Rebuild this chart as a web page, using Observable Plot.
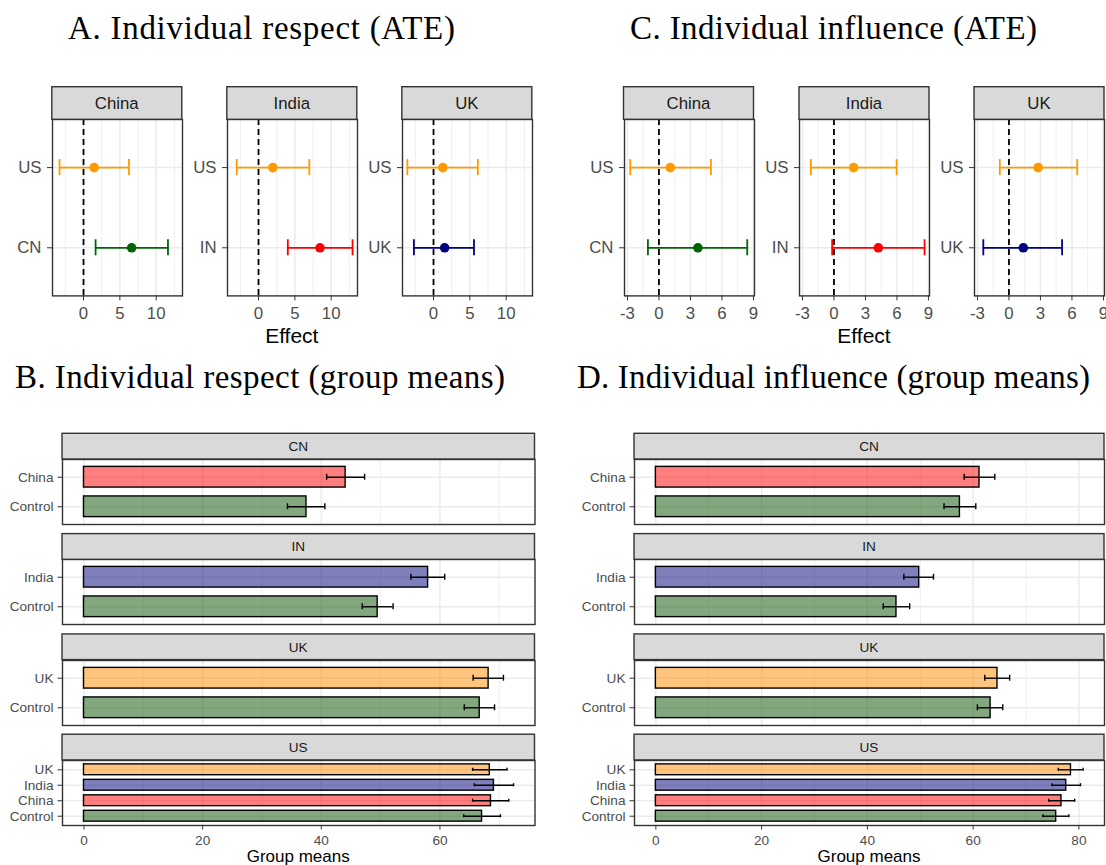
<!DOCTYPE html>
<html><head><meta charset="utf-8">
<script src="https://cdn.jsdelivr.net/npm/d3@7"></script>
<script src="https://cdn.jsdelivr.net/npm/@observablehq/plot@0.6"></script>
<style>
html,body{margin:0;padding:0;background:#fff;overflow:hidden;}
#root{position:relative;width:1106px;height:865px;overflow:hidden;background:#fff;}
.pl{position:absolute;}
.pl svg{max-width:none !important;}
</style></head><body><div id="root"></div><script>
// ---------- DATA ----------
// Panels A / C: average treatment effects (rows: US, target country)
const ateCountries = ["China", "India", "UK"];
const ateGroups = [["US", "CN"], ["US", "IN"], ["US", "UK"]];
const respectEst = [[1.46, 6.62], [1.97, 8.46], [1.28, 1.53]];
const respectLo  = [[-3.3, 1.66], [-3.0, 4.03], [-3.6, -2.7]];
const respectHi  = [[6.25, 11.62], [6.99, 12.94], [6.1, 5.57]];
const influenceEst = [[1.08, 3.71], [1.87, 4.23], [2.78, 1.37]];
const influenceLo  = [[-2.73, -1.05], [-2.2, -0.17], [-0.87, -2.44]];
const influenceHi  = [[4.95, 8.41], [5.97, 8.63], [6.5, 5.06]];
const ateColors = {US: "#ff9900", CN: "#006400", IN: "#ff0000", UK: "#000080"};
const respectTicks = [0, 5, 10];
const respectMinor = [-2.5, 2.5, 7.5, 12.5];
const influenceTicks = [-3, 0, 3, 6, 9];
const influenceMinor = [-1.5, 1.5, 4.5, 7.5];

// Panels B / D: group means
const facets = ["CN", "IN", "UK", "US"];
const facetConds = [["China", "Control"], ["India", "Control"], ["UK", "Control"], ["UK", "India", "China", "Control"]];
const respectMean   = [[44.1, 37.5], [58.0, 49.5], [68.2, 66.7], [68.4, 69.1, 68.6, 67.1]];
const respectMeanLo = [[40.9, 34.3], [55.1, 46.9], [65.6, 64.1], [65.5, 65.8, 65.5, 64.0]];
const respectMeanHi = [[47.3, 40.6], [60.8, 52.1], [70.7, 69.2], [71.3, 72.4, 71.6, 70.2]];
const influenceMean   = [[61.2, 57.5], [49.8, 45.5], [64.6, 63.3], [78.5, 77.6, 76.7, 75.7]];
const influenceMeanLo = [[58.3, 54.5], [46.9, 43.0], [62.2, 60.8], [76.1, 74.9, 74.3, 73.2]];
const influenceMeanHi = [[64.1, 60.5], [52.5, 48.0], [66.9, 65.6], [80.8, 80.3, 79.2, 78.1]];
const condColors = {China: "#ff0000", India: "#000078", UK: "#ff8c00", Control: "#085200"};
const respectMeanTicks = [0, 20, 40, 60];
const influenceMeanTicks = [0, 20, 40, 60, 80];
const meanMinor = [10, 30, 50, 70];

// ---------- LAYOUT ----------
const SANS = "'Liberation Sans', Arial, Helvetica, sans-serif";
const SERIF = "'Liberation Serif', 'Times New Roman', serif";
const root = document.getElementById("root");
const overlay = d3.create("svg").attr("width", 1106).attr("height", 865)
  .style("position", "absolute").style("left", "0px").style("top", "0px");

function place(svg, left, top, w, h) {
  const d = document.createElement("div");
  d.className = "pl";
  d.style.left = left + "px";
  d.style.top = top + "px";
  d.style.width = w + "px";
  d.style.height = h + "px";
  svg.style.maxWidth = "none";
  svg.style.width = w + "px";
  svg.style.height = h + "px";
  d.appendChild(svg);
  root.appendChild(d);
}

function strip(x, y, w, h, label, fs) {
  overlay.append("rect").attr("x", x).attr("y", y).attr("width", w).attr("height", h)
    .attr("fill", "#d9d9d9").attr("stroke", "#333").attr("stroke-width", 1.4);
  overlay.append("text").attr("x", x + w / 2).attr("y", y + h / 2 + 0.36 * fs)
    .attr("text-anchor", "middle").attr("font-family", SANS).attr("font-size", fs)
    .attr("fill", "#1a1a1a").text(label);
}

function label(x, y, text, fs, family, extra = {}) {
  const t = overlay.append("text").attr("x", x).attr("y", y).attr("text-anchor", "middle")
    .attr("font-family", family).attr("font-size", fs).attr("fill", "#000").text(text);
  for (const k in extra) t.attr(k, extra[k]);
}

function atePanel({left, top, w, h, xDomain, xTicks, xMinor, rows}) {
  const mL = 55, mR = 14, mT = 4, mB = 34;
  const n = rows.length;
  const fs = 16.8;
  const W = w + mL + mR, H = h + mT + mB;
  const svg = Plot.plot({
    width: W, height: H,
    marginLeft: mL, marginRight: mR, marginTop: mT, marginBottom: mB,
    style: {background: "none", fontFamily: SANS, fontSize: fs + "px", color: "#4d4d4d", overflow: "visible"},
    x: {domain: xDomain},
    y: {domain: [n - 1 + 0.6, -0.6]},
    marks: [
      Plot.gridX(xMinor, {stroke: "#ebebeb", strokeOpacity: 1, strokeWidth: 0.8}),
      Plot.gridX(xTicks, {stroke: "#ebebeb", strokeOpacity: 1, strokeWidth: 1.5}),
      Plot.gridY(rows.map(d => d.i), {stroke: "#ebebeb", strokeOpacity: 1, strokeWidth: 1.5}),
      Plot.ruleX([0], {stroke: "#000", strokeWidth: 1.8, strokeDasharray: "6,4"}),
      Plot.ruleY(rows, {y: "i", x1: "lo", x2: "hi", stroke: "color", strokeWidth: 1.8}),
      Plot.ruleX(rows, {x: "lo", y1: d => d.i - 0.1, y2: d => d.i + 0.1, stroke: "color", strokeWidth: 1.8}),
      Plot.ruleX(rows, {x: "hi", y1: d => d.i - 0.1, y2: d => d.i + 0.1, stroke: "color", strokeWidth: 1.8}),
      Plot.dot(rows, {x: "est", y: "i", r: 4.8, fill: "color", stroke: "none"}),
      Plot.frame({stroke: "#333", strokeWidth: 1.4}),
      Plot.axisX(xTicks, {tickSize: 5, tickPadding: 6, tickFormat: d => String(d), stroke: "#333", fill: "#4d4d4d", fontSize: fs, label: null}),
      Plot.axisY(rows.map(d => d.i), {tickSize: 5, tickPadding: 6, tickFormat: i => rows[i].group, stroke: "#333", fill: "#4d4d4d", fontSize: fs, label: null})
    ]
  });
  place(svg, left - mL, top - mT, W, H);
}

function barPanel({left, top, w, h, xDomain, xTicks, xMinor, rows, showX}) {
  const mL = 70, mR = 14, mT = 4, mB = 28;
  const n = rows.length;
  const fs = 13.6;
  const W = w + mL + mR, H = h + mT + mB;
  const marks = [
    Plot.gridX(xMinor, {stroke: "#ebebeb", strokeOpacity: 1, strokeWidth: 0.8}),
    Plot.gridX(xTicks, {stroke: "#ebebeb", strokeOpacity: 1, strokeWidth: 1.5}),
    Plot.gridY(rows.map(d => d.i), {stroke: "#ebebeb", strokeOpacity: 1, strokeWidth: 1.5}),
    Plot.rect(rows, {x1: 0, x2: "mean", y1: d => d.i - 0.35, y2: d => d.i + 0.35, fill: "color", fillOpacity: 0.5, stroke: "#000", strokeWidth: 1.4}),
    Plot.ruleY(rows, {y: "i", x1: "lo", x2: "hi", stroke: "#000", strokeWidth: 1.4}),
    Plot.ruleX(rows, {x: "lo", y1: d => d.i - 0.1, y2: d => d.i + 0.1, stroke: "#000", strokeWidth: 1.4}),
    Plot.ruleX(rows, {x: "hi", y1: d => d.i - 0.1, y2: d => d.i + 0.1, stroke: "#000", strokeWidth: 1.4}),
    Plot.frame({stroke: "#333", strokeWidth: 1.4}),
    Plot.axisY(rows.map(d => d.i), {tickSize: 4.5, tickPadding: 4.5, tickFormat: i => rows[i].cond, stroke: "#333", fill: "#4d4d4d", fontSize: fs, label: null})
  ];
  if (showX) marks.push(Plot.axisX(xTicks, {tickSize: 4.5, tickPadding: 5, tickFormat: d => String(d), stroke: "#333", fill: "#4d4d4d", fontSize: fs, label: null}));
  const svg = Plot.plot({
    width: W, height: H,
    marginLeft: mL, marginRight: mR, marginTop: mT, marginBottom: mB,
    style: {background: "none", fontFamily: SANS, fontSize: fs + "px", color: "#4d4d4d", overflow: "visible"},
    x: showX ? {domain: xDomain} : {domain: xDomain, axis: null},
    y: {domain: [n - 1 + 0.6, -0.6], axis: null},
    marks
  });
  place(svg, left - mL, top - mT, W, H);
}

// ---- A and C ----
const aLeft = [51.8, 226.8, 401.8], cLeft = [623.5, 799, 974];
const panelW = 130, ateTop = 119.3, ateH = 176.4, ateStripTop = 86.7;
ateCountries.forEach((country, k) => {
  const rowsR = ateGroups[k].map((g, i) => ({i, group: g, est: respectEst[k][i], lo: respectLo[k][i], hi: respectHi[k][i], color: ateColors[g]}));
  const rowsI = ateGroups[k].map((g, i) => ({i, group: g, est: influenceEst[k][i], lo: influenceLo[k][i], hi: influenceHi[k][i], color: ateColors[g]}));
  atePanel({left: aLeft[k], top: ateTop, w: panelW, h: ateH, xDomain: [-4.27, 13.62], xTicks: respectTicks, xMinor: respectMinor, rows: rowsR});
  atePanel({left: cLeft[k], top: ateTop, w: panelW, h: ateH, xDomain: [-3.28, 9.1], xTicks: influenceTicks, xMinor: influenceMinor, rows: rowsI});
  strip(aLeft[k], ateStripTop, panelW, ateTop - ateStripTop, country, 16.8);
  strip(cLeft[k], ateStripTop, panelW, ateTop - ateStripTop, country, 16.8);
});

// ---- B and D ----
const bTop0 = 459, facetStep = 100.3, facetH = 65, stripH = 25.7;
facets.forEach((f, k) => {
  const top = bTop0 + k * facetStep;
  const rowsR = facetConds[k].map((c, i) => ({i, cond: c, mean: respectMean[k][i], lo: respectMeanLo[k][i], hi: respectMeanHi[k][i], color: condColors[c]}));
  const rowsI = facetConds[k].map((c, i) => ({i, cond: c, mean: influenceMean[k][i], lo: influenceMeanLo[k][i], hi: influenceMeanHi[k][i], color: condColors[c]}));
  barPanel({left: 62, top, w: 472.5, h: facetH, xDomain: [-3.62, 76.02], xTicks: respectMeanTicks, xMinor: meanMinor, rows: rowsR, showX: k === facets.length - 1});
  barPanel({left: 634, top, w: 470, h: facetH, xDomain: [-4.04, 84.84], xTicks: influenceMeanTicks, xMinor: meanMinor, rows: rowsI, showX: k === facets.length - 1});
  strip(62, top - stripH, 472.5, stripH, f, 13.6);
  strip(634, top - stripH, 470, stripH, f, 13.6);
});

// ---- titles ----
label(261.5, 39, "A. Individual respect (ATE)", 33, SERIF, {textLength: 387, lengthAdjust: "spacing"});
label(833.5, 39, "C. Individual influence (ATE)", 33, SERIF, {textLength: 407, lengthAdjust: "spacing"});
label(260, 388, "B. Individual respect (group means)", 33, SERIF, {textLength: 490, lengthAdjust: "spacing"});
label(833.5, 388, "D. Individual influence (group means)", 33, SERIF, {textLength: 513, lengthAdjust: "spacing"});
label(291.8, 343, "Effect", 21, SANS);
label(864, 343, "Effect", 21, SANS);
label(298.2, 862, "Group means", 17, SANS);
label(869, 862, "Group means", 17, SANS);

root.appendChild(overlay.node());
</script></body></html>
